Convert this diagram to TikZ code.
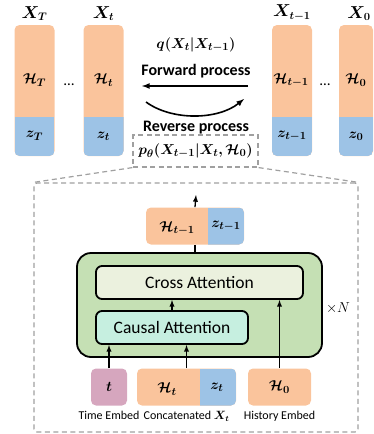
\documentclass[tikz,border=0pt]{standalone}
\usepackage{fontspec}
\setmainfont{Carlito}
\usepackage{amsmath}
\usepackage{bm}
\usetikzlibrary{positioning}

\definecolor{hcol}{RGB}{250,196,156}
\definecolor{zcol}{RGB}{157,195,230}
\definecolor{tcol}{RGB}{214,166,190}
\definecolor{blkcol}{RGB}{197,224,180}
\definecolor{crosscol}{RGB}{235,241,222}
\definecolor{causcol}{RGB}{198,239,224}
\definecolor{dashgray}{RGB}{160,160,160}

\begin{document}
\begin{tikzpicture}[x=1pt,y=-1pt,>=latex,thick,
    col/.style={inner sep=0,minimum width=40pt,minimum height=131pt,rounded corners=5pt,fill=hcol,
      path picture={\fill[zcol,sharp corners] (path picture bounding box.south west) rectangle ([yshift=39pt]path picture bounding box.south east);}},
    hsplit/.style={inner sep=0,minimum height=37pt,rounded corners=5pt,fill=hcol,
      path picture={\fill[zcol,sharp corners] ([xshift=#1]path picture bounding box.south west) rectangle (path picture bounding box.north east);}},
    inbox/.style={inner sep=0,minimum height=37pt,rounded corners=5pt},
    attn/.style={draw,line width=1.8pt,rounded corners=6pt,inner sep=0,minimum height=33pt,font=\fontsize{17.5}{20}\selectfont},
    gdash/.style={draw=dashgray,line width=1.2pt,dash pattern=on 5pt off 3.5pt},
    big/.style={font=\fontsize{16}{19}\selectfont},
    mid/.style={font=\fontsize{15}{18}\selectfont},
    small/.style={font=\fontsize{12}{14}\selectfont},
    conn/.style={->,line width=1.3pt}]
  \useasboundingbox (0,0) rectangle (373,434);

  % diffusion chain
  \node[col] (colT) at (34.5,90.5) {};
  \node[col] (colt) at (103.5,90.5) {};
  \node[col] (coltm) at (292,90.5) {};
  \node[col,minimum width=34pt] (col0) at (356,90.5) {};
  \node[big,above=0pt of colT] (xT) {$\bm{X_T}$};
  \node[big,above=0pt of colt] (xt) {$\bm{X_t}$};
  \node[big,above=0pt of coltm] (xtm) {$\bm{X_{t-1}}$};
  \node[big,above=0pt of col0,xshift=3pt] (x0) {$\bm{X_0}$};
  \node[mid] (HT) at (34.5,80) {$\bm{\mathcal{H}_T}$};
  \node[mid] (Ht) at (103.5,80) {$\bm{\mathcal{H}_t}$};
  \node[mid] (Htm) at (291,80) {$\bm{\mathcal{H}_{t-1}}$};
  \node[mid] (H0) at (356,80) {$\bm{\mathcal{H}_0}$};
  \node[mid] (zT) at (34.5,136) {$\bm{z_T}$};
  \node[mid] (zt) at (103.5,136) {$\bm{z_t}$};
  \node[mid] (ztm) at (292,136) {$\bm{z_{t-1}}$};
  \node[mid] (z0) at (356,136) {$\bm{z_0}$};
  \node[mid] (dotsL) at (69,85) {\dots};
  \node[mid] (dotsR) at (325,85) {\dots};

  % forward / reverse
  \node[mid] (qlbl) at (196,45) {$\bm{q(X_t|X_{t-1})}$};
  \node[big] (fwdlbl) at (196,71) {\textbf{Forward process}};
  \node[big] (revlbl) at (196,128) {\textbf{Reverse process}};
  \coordinate (fwdR) at (248,86);
  \coordinate (fwdL) at (142,86);
  \coordinate (revL) at (146,102);
  \coordinate (revR) at (244,99);
  \draw[->,line width=1.6pt] (fwdR) -- (fwdL);
  \draw[->,line width=1.6pt] (revL) .. controls (172,121) and (218,120) .. (revR);

  % zoomed denoiser
  \node[gdash,inner sep=0,minimum width=125pt,minimum height=32pt] (pbox) at (195.5,151)
    {\fontsize{15}{18}\selectfont$\bm{p_\theta(X_{t-1}|X_t,\mathcal{H}_0)}$};
  \node[gdash,rounded corners=3pt,inner sep=0,minimum width=324pt,minimum height=249pt] (frame) at (196,307.5) {};
  \draw[gdash] (pbox.south west) -- (frame.north west);
  \draw[gdash] (pbox.south east) -- (frame.north east);

  \node[hsplit=62pt,minimum width=98pt] (out) at (195,226) {};
  \node[mid] (Hout) at (177,228) {$\bm{\mathcal{H}_{t-1}}$};
  \node[mid] (zout) at (226,226) {$\bm{z_{t-1}}$};
  \coordinate (outtop) at (196,195);

  \node[draw,line width=1.8pt,fill=blkcol,rounded corners=14pt,inner sep=0,minimum width=245pt,minimum height=104pt] (blk) at (199.5,305) {};
  \node[attn,fill=crosscol,minimum width=207pt] (cross) at (199.5,282.5) {Cross Attention};
  \node[attn,fill=causcol,minimum width=152pt] (causal) at (172,327.5) {Causal Attention};
  \node[mid] (timesN) at (338,308) {$\times N$};

  \node[inbox,fill=tcol,minimum width=36pt] (tin) at (109,387) {\fontsize{15}{18}\selectfont$\bm{t}$};
  \node[hsplit=63pt,minimum width=99pt] (cat) at (186.5,387) {};
  \node[mid] (Hcat) at (167,389) {$\bm{\mathcal{H}_t}$};
  \node[mid] (zcat) at (217,387) {$\bm{z_t}$};
  \node[inbox,fill=hcol,minimum width=63pt] (hist) at (279.5,387) {\fontsize{15}{18}\selectfont$\bm{\mathcal{H}_0}$};
  \node[small,below=2pt of tin] (tlbl) {Time Embed};
  \node[small,below=2pt of cat] (catlbl) {Concatenated $\bm{X_t}$};
  \node[small,below=2pt of hist] (histlbl) {History Embed};

  \draw[conn] (out.north) -- (outtop);
  \draw[line width=1.3pt] (out.south) -- (out.south |- blk.north);
  \draw[conn] (causal.north) -- (causal.north |- cross.south);
  \draw[conn] (tin.north) -- (tin.north |- causal.south);
  \draw[conn] (cat.north) -- (cat.north |- causal.south);
  \draw[conn] (hist.north) -- (hist.north |- cross.south);
\end{tikzpicture}
\end{document}
